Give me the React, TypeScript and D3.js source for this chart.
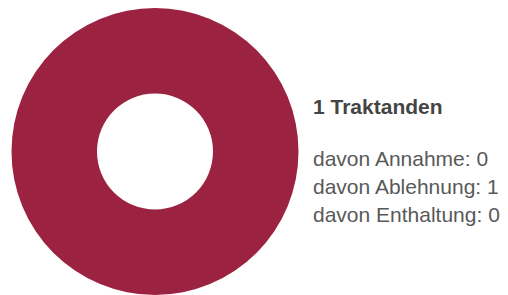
import { useEffect, useRef } from 'react'
import * as d3 from 'd3'

// Abstimmungsergebnis
const categories = ['Annahme', 'Ablehnung', 'Enthaltung']
const values = [0, 1, 0]
const colors = ['#4a8a3a', '#9b2240', '#9a9a9a']
const titleLabel = 'Traktanden'

const App = () => {
  const ref = useRef<SVGSVGElement>(null)

  useEffect(() => {
    const svg = d3.select(ref.current)
    svg.selectAll('*').remove()

    const width = 508
    const height = 295
    const cx = 155
    const cy = 151.5
    const outer = 143.5
    const inner = 58

    const pie = d3.pie<number>().sort(null).value((d) => d)
    const arc = d3.arc<d3.PieArcDatum<number>>().innerRadius(inner).outerRadius(outer)

    svg.attr('width', width).attr('height', height)

    svg
      .append('g')
      .attr('transform', `translate(${cx},${cy})`)
      .selectAll('path')
      .data(pie(values))
      .join('path')
      .attr('d', arc)
      .attr('fill', (_, i) => colors[i])

    const total = d3.sum(values)
    const legend = svg.append('g').style('font-family', 'Arial, "Liberation Sans", Helvetica, sans-serif')

    legend
      .append('text')
      .attr('x', 313)
      .attr('y', 114)
      .attr('font-size', 21)
      .attr('font-weight', 'bold')
      .attr('fill', '#444444')
      .text(`${total} ${titleLabel}`)

    legend
      .selectAll('text.item')
      .data(categories)
      .join('text')
      .attr('class', 'item')
      .attr('x', 313)
      .attr('y', (_, i) => 166 + i * 28)
      .attr('font-size', 21)
      .attr('fill', '#595959')
      .text((d, i) => `davon ${d}: ${values[i]}`)
  }, [])

  return <svg ref={ref} style={{ position: 'absolute', left: 0, top: 0 }} />
}

export default App
